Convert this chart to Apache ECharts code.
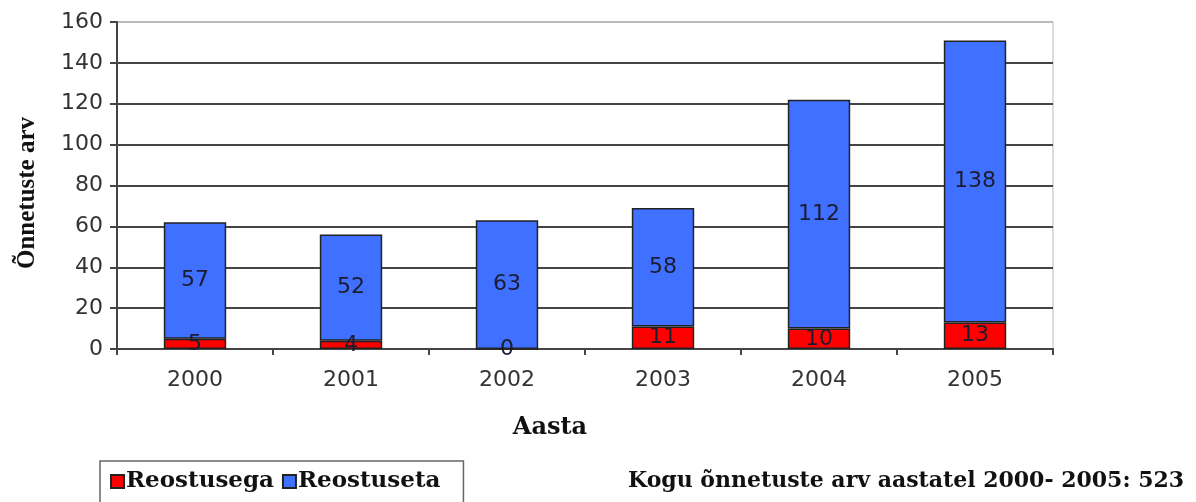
<!DOCTYPE html>
<html>
<head>
<meta charset="utf-8">
<script src="https://cdn.jsdelivr.net/npm/echarts@6/dist/echarts.min.js"></script>
<style>
  html, body { margin: 0; padding: 0; background: #fff; }
  #chart { width: 1196px; height: 502px; }
</style>
</head>
<body>
<div id="chart"></div>
<script>
// andmed joonise pealt
var years = ['2000', '2001', '2002', '2003', '2004', '2005'];
var reostusega = [5, 4, 0, 11, 10, 13];
var reostuseta = [57, 52, 63, 58, 112, 138];
var yTicks = [0, 20, 40, 60, 80, 100, 120, 140, 160];
var kokku = 523;

var serif = '"DejaVu Serif", "Liberation Serif", serif';
var times = '"Liberation Serif", "Times New Roman", serif';
var sans = '"DejaVu Sans", Arial, sans-serif';

var chart = echarts.init(document.getElementById('chart'));

function barLabel() {
  return {
    show: true,
    position: 'inside',
    color: '#1c1c30',
    fontFamily: sans,
    fontSize: 22
  };
}

// viimane jooneke (160) on heledam
var gridColors = yTicks.map(function (v, i) { return i === yTicks.length - 1 ? '#bbb' : '#444'; });

var option = {
  animation: false,
  backgroundColor: '#fff',
  grid: {
    left: 117,
    right: 143,
    top: 22,
    bottom: 153,
    show: true,
    borderColor: '#bbb',
    borderWidth: 1
  },
  legend: {
    left: 100,
    top: 461,
    itemGap: 8,
    itemWidth: 13,
    itemHeight: 13,
    padding: [9, 23, 20, 10],
    borderColor: '#666',
    borderWidth: 1.5,
    icon: 'rect',
    textStyle: {
      fontFamily: serif,
      fontWeight: 'bold',
      fontSize: 23,
      color: '#111',
      padding: [0, 0, 0, -3]
    },
    data: ['Reostusega', 'Reostuseta']
  },
  xAxis: {
    type: 'category',
    data: years,
    axisLine: { lineStyle: { color: '#444', width: 2 } },
    axisTick: { show: true, interval: 0, length: 6, lineStyle: { color: '#444', width: 2 } },
    axisLabel: {
      margin: 20,
      fontFamily: sans,
      fontSize: 22,
      color: '#333'
    }
  },
  yAxis: {
    type: 'value',
    min: 0,
    max: 160,
    interval: 20,
    axisLine: { show: true, lineStyle: { color: '#444', width: 2 } },
    axisTick: { show: true, length: 7, lineStyle: { color: '#444', width: 2 } },
    axisLabel: {
      margin: 14,
      fontFamily: sans,
      fontSize: 22,
      color: '#333',
      formatter: function (v) { return yTicks.indexOf(v) >= 0 ? String(v) : ''; }
    },
    splitLine: { show: true, lineStyle: { color: gridColors, width: 2 } }
  },
  series: [
    {
      name: 'Reostusega',
      type: 'bar',
      stack: 'kokku',
      barWidth: '40%',
      data: reostusega,
      itemStyle: { color: '#ff0000', borderColor: '#222', borderWidth: 1.5 },
      label: barLabel()
    },
    {
      name: 'Reostuseta',
      type: 'bar',
      stack: 'kokku',
      barWidth: '40%',
      data: reostuseta,
      itemStyle: { color: '#4070ff', borderColor: '#222', borderWidth: 1.5 },
      label: barLabel()
    }
  ],
  graphic: [
    {
      type: 'text',
      x: 28,
      y: 193,
      rotation: Math.PI / 2,
      style: {
        text: 'Õnnetuste arv',
        fontFamily: times,
        fontWeight: 'bold',
        fontSize: 25,
        fill: '#111',
        align: 'center',
        verticalAlign: 'middle'
      }
    },
    {
      type: 'text',
      x: 550,
      y: 428,
      style: {
        text: 'Aasta',
        fontFamily: serif,
        fontWeight: 'bold',
        fontSize: 24,
        fill: '#111',
        align: 'center',
        verticalAlign: 'middle'
      }
    },
    {
      type: 'text',
      x: 628,
      y: 481,
      style: {
        text: 'Kogu õnnetuste arv aastatel 2000- 2005: ' + kokku,
        fontFamily: serif,
        fontWeight: 'bold',
        fontSize: 22,
        fill: '#111',
        align: 'left',
        verticalAlign: 'middle'
      }
    }
  ]
};

chart.setOption(option);
</script>
</body>
</html>
